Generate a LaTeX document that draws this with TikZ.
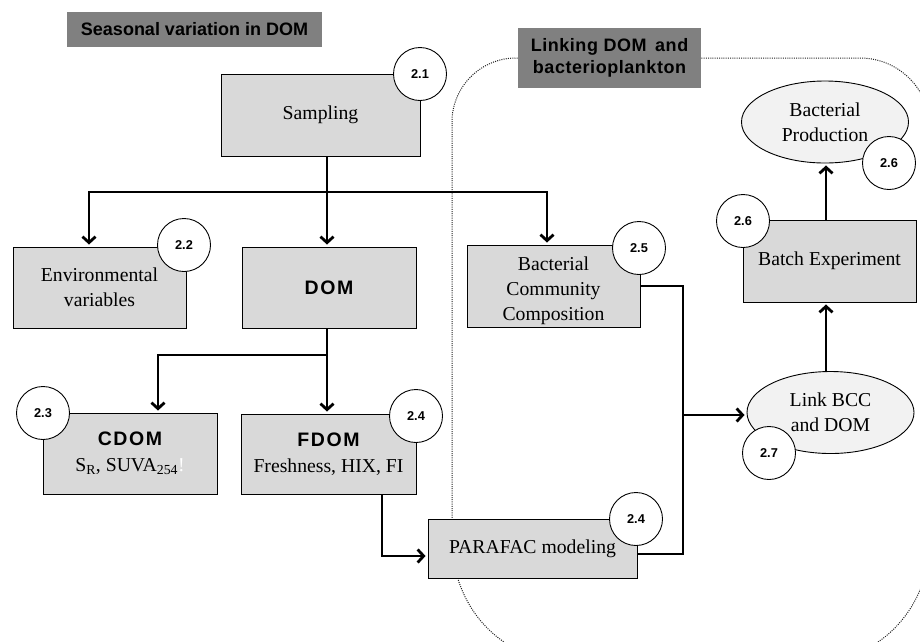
\documentclass[tikz,border=0pt]{standalone}
\usepackage{fontspec}
\setmainfont{Liberation Serif}
\setsansfont{Liberation Sans}
\usetikzlibrary{arrows.meta,shapes.geometric}
\definecolor{boxgray}{HTML}{D9D9D9}
\definecolor{ellgray}{HTML}{F2F2F2}
\definecolor{titlegray}{HTML}{808080}
\definecolor{dotgray}{HTML}{202020}
\newcommand{\boldlabel}[1]{{\sffamily\bfseries\fontsize{19.5}{24}\selectfont\addfontfeatures{LetterSpace=8}#1}}
\begin{document}
\begin{tikzpicture}[x=1pt,y=-1pt,
  box/.style={draw=black, line width=0.9pt, fill=boxgray, align=center, inner sep=0pt,
    font=\fontsize{19.7}{25}\selectfont},
  ell/.style={ellipse, draw=black, line width=0.9pt, fill=ellgray, align=center, inner sep=0pt,
    minimum width=167pt, minimum height=82pt, font=\fontsize{19.7}{25}\selectfont},
  title/.style={fill=titlegray, align=center, inner sep=0pt,
    font=\sffamily\bfseries\fontsize{18}{22}\selectfont},
  num/.style={circle, draw=black, line width=0.9pt, fill=white, minimum size=53pt, inner sep=0pt,
    font=\sffamily\bfseries\fontsize{12.8}{14}\selectfont},
  conn/.style={line width=2.8pt},
  arr/.style={line width=2.8pt, -{Straight Barb[length=6pt,width=13pt]}, shorten >=2pt}
]
\useasboundingbox (0,0) rectangle (920,641);

% dotted region
\begin{scope}
\clip (0,0) rectangle (920,641);
\draw[line width=1pt, dotgray, dash pattern=on 1pt off 1.2pt]
  (452,122) .. controls (452,86.7) and (480.7,58) .. (516,58)
  -- (860,58) .. controls (898.7,58) and (930,89.3) .. (930,128)
  -- (930,540) .. controls (930,606.3) and (880.8,660) .. (820,660)
  -- (562,660) .. controls (501.2,660) and (452,606.3) .. (452,540) -- cycle;
\end{scope}

% titles
\node[title, minimum width=255pt, minimum height=35pt] (t1) at (194.5,29.5) {Seasonal variation in DOM};
\node[title, minimum width=183pt, minimum height=60pt, font=\sffamily\bfseries\fontsize{18}{22}\selectfont\addfontfeatures{LetterSpace=3}] (t2) at (609.5,58) {Linking DOM\, and\\bacterioplankton};

% boxes
\node[box, minimum width=199pt, minimum height=82pt] (samp) at (320.5,115) {Sampling};
\node[box, minimum width=173pt, minimum height=81pt] (env) at (99.5,287.5) {Environmental\\variables};
\node[box, minimum width=174pt, minimum height=81pt] (dom) at (329,287.5) {\boldlabel{DOM}};
\node[box, minimum width=174pt, minimum height=81pt] (cdom) at (130,453.5)
  {\boldlabel{CDOM}\\[1pt]S\textsubscript{R}, SUVA\textsubscript{254}\textcolor{white}{!}};
\node[box, minimum width=175pt, minimum height=80pt] (fdom) at (328.5,454)
  {\boldlabel{FDOM}\\[1pt]Freshness, HIX, FI};
\node[box, minimum width=173pt, minimum height=82pt, text depth=0pt] (bcc) at (553.5,286) {\rule{0pt}{19pt}Bacterial\\Community\\Composition};
\node[box, minimum width=173pt, minimum height=82pt] (batch) at (829.5,261) {Batch Experiment};
\node[box, minimum width=209pt, minimum height=59pt] (para) at (532.5,548.5) {PARAFAC modeling};
\node[ell] (bp) at (825,122) {Bacterial\\Production};
\node[ell] (link) at (830.5,412.5) {Link BCC\\and DOM};

% connectors
\coordinate (j1) at (327,192);
\coordinate (j2) at (327,355);
\coordinate (j3) at (683,415);
\draw[conn] (samp.south -| j1) -- (j1);
\draw[arr] (j1) -- (j1 |- dom.north);
\draw[arr] (j1) -| ([xshift=-10.5pt]env.north);
\draw[arr] (j1) -| ([xshift=-6.5pt]bcc.north);
\draw[conn] (dom.south -| j2) -- (j2);
\draw[arr] (j2) -| ([xshift=28pt]cdom.north);
\draw[arr] (j2) -- (j2 |- fdom.north);
\draw[arr] ([xshift=53.5pt]fdom.south) |- ([yshift=-7.5pt]para.west);
\draw[conn] ([yshift=-5.5pt]para.east) -| (j3);
\draw[conn] (bcc.east) -| (j3);
\draw[arr] (j3) -- (link.west |- j3);
\draw[arr] (link.north -| 826,0) -- (batch.south -| 826,0);
\draw[arr] (batch.north -| 826,0) -- (bp.south -| 826,0);

% number circles
\node[num] (c21) at (420,74) {2.1};
\node[num] (c22) at (184,245) {2.2};
\node[num] (c23) at (43,413) {2.3};
\node[num] (c24a) at (416,416) {2.4};
\node[num] (c25) at (639,248) {2.5};
\node[num] (c26a) at (743,221) {2.6};
\node[num] (c26b) at (889,163) {2.6};
\node[num] (c24b) at (636,519) {2.4};
\node[num] (c27) at (769,453) {2.7};
\end{tikzpicture}
\end{document}
